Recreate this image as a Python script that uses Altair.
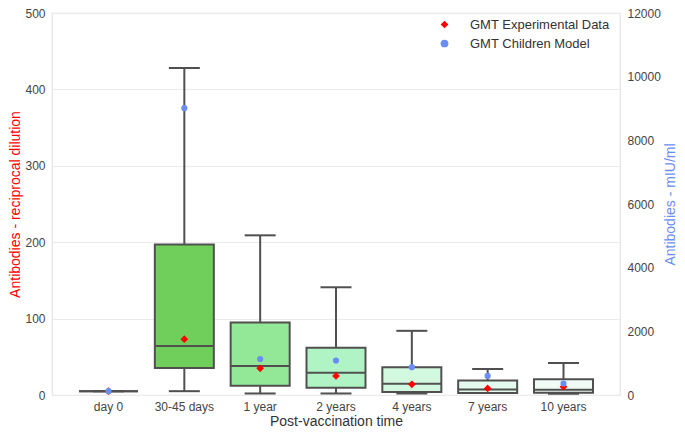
import altair as alt
import pandas as pd

categories = ["day 0", "30-45 days", "1 year", "2 years", "4 years", "7 years", "10 years"]
whisker_low = [5, 5, 2, 2, 2, 2.6, 1.5]
q1 = [5, 35.5, 12, 9.5, 3.9, 2.6, 3]
median = [5, 64, 38, 29, 14.6, 7.3, 6.8]
q3 = [5, 197, 95, 62, 36.4, 18.9, 20.5]
whisker_high = [5, 428, 209, 141, 84, 34, 42]
gmt_experimental = [5, 73, 35, 25, 14, 8.6, 10.8]
gmt_model = [120, 9010, 1130, 1080, 875, 600, 360]
box_fills = ["#ffffff", "#6fcf5a", "#93e897", "#b0f4c6", "#d2f9df", "#e6fbef", "#f1fcf7"]
series_names = ["GMT Experimental Data", "GMT Children Model"]

FONT = "Liberation Sans"
EDGE = "#505050"
RED = "#ff0000"
BLUE = "#6a8ef5"

box_df = pd.DataFrame({
    "cat": categories, "low": whisker_low, "q1": q1, "med": median,
    "q3": q3, "high": whisker_high, "fill": box_fills,
})
exp_df = pd.DataFrame({"cat": categories, "value": gmt_experimental, "series": series_names[0]})
model_df = pd.DataFrame({"cat": categories, "value": gmt_model, "series": series_names[1]})

x = alt.X("cat:N", sort=categories,
          scale=alt.Scale(type="band", paddingInner=0, paddingOuter=0.245),
          axis=alt.Axis(title="Post-vaccination time", labelAngle=0, ticks=False, domain=False,
                        grid=False, labelPadding=6, titlePadding=2, labelFontSize=12,
                        titleFontSize=14))

yL_scale = alt.Scale(domain=[0, 500], nice=False)
left_axis = alt.Axis(title="Antibodies - reciprocal dilution", values=[0, 100, 200, 300, 400, 500],
                     titleColor=RED, ticks=False, domain=False, grid=True, gridColor="#ebebeb",
                     gridWidth=1.2, labelPadding=7, titlePadding=2, labelFontSize=12, titleFontSize=14)
right_axis = alt.Axis(title="Antibodies - mIU/ml", orient="right", format="d",
                      values=[0, 2000, 4000, 6000, 8000, 10000, 12000],
                      titleColor=BLUE, ticks=False, domain=False, grid=False, labelPadding=7,
                      titlePadding=3, labelFontSize=12, titleFontSize=14, titleAngle=270,
                      titleBaseline="top")

color_scale = alt.Scale(domain=series_names, range=[RED, BLUE])
shape_scale = alt.Scale(domain=series_names, range=["diamond", "circle"])
legend = alt.Legend(title=None, orient="none", legendX=386, legendY=5, labelFontSize=13,
                    labelColor="#333333", labelFont=FONT, symbolSize=60, rowPadding=5,
                    labelOffset=19)

base = alt.Chart(box_df)
lower_rule = base.mark_rule(color=EDGE, strokeWidth=2).encode(
    x=x, y=alt.Y("low:Q", scale=yL_scale, axis=left_axis), y2="q1:Q")
upper_rule = base.mark_rule(color=EDGE, strokeWidth=2).encode(
    x=x, y=alt.Y("q3:Q", scale=yL_scale, axis=left_axis), y2="high:Q")
box = base.mark_bar(width=59, stroke=EDGE, strokeWidth=2).encode(
    x=x, y=alt.Y("q1:Q", scale=yL_scale, axis=left_axis), y2="q3:Q",
    fill=alt.Fill("fill:N", scale=None))
med = base.mark_tick(color=EDGE, size=59, thickness=2, opacity=1).encode(
    x=x, y=alt.Y("med:Q", scale=yL_scale, axis=left_axis))
cap_low = base.mark_tick(color=EDGE, size=31, thickness=2, opacity=1).encode(
    x=x, y=alt.Y("low:Q", scale=yL_scale, axis=left_axis))
cap_high = base.mark_tick(color=EDGE, size=31, thickness=2, opacity=1).encode(
    x=x, y=alt.Y("high:Q", scale=yL_scale, axis=left_axis))
red = alt.Chart(exp_df).mark_point(filled=True, size=60, opacity=1).encode(
    x=x, y=alt.Y("value:Q", scale=yL_scale, axis=left_axis),
    color=alt.Color("series:N", scale=color_scale, legend=legend),
    shape=alt.Shape("series:N", scale=shape_scale, legend=legend))

blue = alt.Chart(model_df).mark_point(filled=True, size=38, opacity=1).encode(
    x=x, y=alt.Y("value:Q", scale=alt.Scale(domain=[0, 12000], nice=False), axis=right_axis),
    color=alt.Color("series:N", scale=color_scale, legend=legend),
    shape=alt.Shape("series:N", scale=shape_scale, legend=legend))

left = alt.layer(lower_rule, upper_rule, box, med, cap_low, cap_high, red)
chart = alt.layer(left, blue).resolve_scale(y="independent").properties(
    width=568, height=382,
    autosize=alt.AutoSizeParams(type="none"),
    padding={"left": 44, "top": 5, "right": 57, "bottom": 36},
).configure_view(stroke="#e4e4e4", strokeWidth=1.2).configure_axis(
    labelFont=FONT, titleFont=FONT, labelColor="#444444", titleFontWeight="normal",
).configure_axisX(titleColor="#333333")

chart.save("out.html", embed_options={"renderer": "svg", "actions": False})
